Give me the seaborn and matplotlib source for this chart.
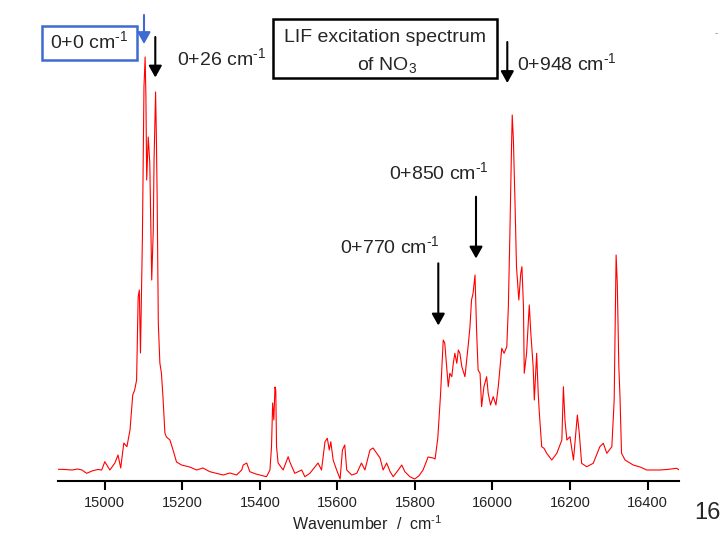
import matplotlib
matplotlib.use("Agg")
import matplotlib.pyplot as plt
import matplotlib.patches as mpatches
import seaborn as sns

# LIF excitation spectrum of NO3
wavenumber = [
    14880, 14897, 14915, 14930, 14941, 14953, 14969, 14982, 14992, 15000,
    15013, 15026, 15034, 15041, 15049, 15057, 15065, 15072, 15077, 15082,
    15086, 15089, 15092, 15097, 15101, 15104, 15106, 15108, 15112, 15116,
    15121, 15125, 15127, 15131, 15133, 15135, 15138, 15142, 15146, 15150,
    15155, 15159, 15168, 15176, 15185, 15198, 15209, 15219, 15237, 15253,
    15271, 15288, 15305, 15323, 15340, 15353, 15357, 15366, 15374, 15390,
    15400, 15417, 15426, 15430, 15433, 15436, 15439, 15441, 15443, 15447,
    15460, 15473, 15477, 15490, 15508, 15516, 15529, 15550, 15559, 15568,
    15574, 15579, 15583, 15589, 15598, 15607, 15613, 15619, 15624, 15637,
    15650, 15662, 15671, 15684, 15692, 15701, 15710, 15718, 15727, 15736,
    15744, 15757, 15766, 15774, 15787, 15799, 15810, 15821, 15834, 15847,
    15852, 15859, 15866, 15873, 15877, 15882, 15886, 15890, 15895, 15899,
    15903, 15908, 15912, 15916, 15921, 15929, 15938, 15942, 15946, 15950,
    15955, 15959, 15963, 15968, 15972, 15978, 15985, 15989, 15995, 16002,
    16009, 16015, 16024, 16030, 16037, 16041, 16045, 16049, 16051, 16054,
    16058, 16062, 16068, 16073, 16076, 16080, 16082, 16088, 16095, 16099,
    16105, 16108, 16114, 16118, 16121, 16127, 16133, 16140, 16153, 16166,
    16179, 16183, 16187, 16192, 16200, 16209, 16219, 16224, 16230, 16243,
    16260, 16277, 16286, 16295, 16308, 16314, 16319, 16322, 16326, 16329,
    16333, 16342, 16363, 16381, 16398, 16415, 16432, 16450, 16475, 16482,
]
intensity = [
    11.7, 11.5, 11, 12, 11, 7.7, 10.3, 11.5, 11, 19.3,
    11, 18, 26, 13, 38, 34.3, 51, 86, 91, 101,
    184, 191, 128, 244, 394, 424, 384, 301, 344, 318,
    201, 251, 321, 389, 344, 284, 158, 118, 108, 84,
    48, 44, 41, 31, 19, 16, 15, 14, 11, 13,
    9.3, 7.7, 6, 8, 6, 11, 16, 18, 9.3, 7,
    6, 4.3, 11, 34.3, 78, 61, 94, 91, 34.3, 18,
    11, 24.3, 19.3, 7.7, 11, 4.3, 7.7, 18, 11, 39.3,
    42.7, 31, 39.3, 21, 11, 2, 31, 36, 11, 6,
    7.7, 18, 11, 31, 33, 28, 23, 11, 18, 9.3,
    4.3, 11, 16, 9.3, 4.3, 2, 5, 11, 24, 23,
    22, 43, 86, 141, 137.7, 114.3, 94.3, 107.7, 104.3, 117.7,
    127.7, 117.7, 131, 127.7, 114.3, 104.3, 137.7, 154.3, 181, 187.7,
    206, 151, 111, 107.7, 74.3, 94.3, 104.3, 87.7, 76, 84.3,
    76, 94.3, 132.7, 127.7, 134.3, 174.3, 247.7, 331, 366, 341,
    281, 214.3, 181, 207.7, 214.3, 174.3, 107.7, 127.7, 176, 147.7,
    114.3, 81, 127.7, 87.7, 67.7, 34.3, 32.7, 27.7, 21, 27.7,
    41, 94.3, 61, 41, 44.3, 21, 66, 47.7, 17.7, 14.3,
    17.7, 34.3, 37.7, 27.7, 34.3, 81, 226, 197.7, 114.3, 84.3,
    27.7, 21, 16, 14, 11, 11, 11, 11.5, 12.7, 11,
]
tick_values = [15000, 15200, 15400, 15600, 15800, 16000, 16200, 16400]

BLUE = "#3d6bd1"
W, H = 720, 540
CM = r"cm$^{\text{-1}}$"


def fx(x):
    return x / W


def fy(y):
    return 1 - y / H


sns.set_theme(style="white")
plt.rcParams["font.family"] = ["Liberation Sans", "DejaVu Sans"]
plt.rcParams["mathtext.fontset"] = "custom"
plt.rcParams["mathtext.rm"] = "Liberation Sans"
plt.rcParams["mathtext.it"] = "Liberation Sans:italic"
plt.rcParams["mathtext.bf"] = "Liberation Sans:bold"

fig = plt.figure(figsize=(7.2, 5.4), dpi=100)
ax = fig.add_axes([fx(58.3), fy(481), 621 / W, 441 / H])

sns.lineplot(x=wavenumber, y=intensity, ax=ax, color="red", linewidth=0.8,
             estimator=None, sort=False)
ax.set_xlim(14880, 16482)
ax.set_ylim(0, 441)
ax.set_yticks([])
ax.set_ylabel("")
ax.set_xticks(tick_values)
for side in ["left", "top", "right"]:
    ax.spines[side].set_visible(False)
ax.spines["bottom"].set_linewidth(1.5)
ax.spines["bottom"].set_color("black")
ax.tick_params(axis="x", bottom=True, direction="out", length=6.5, width=1.5,
               color="black", labelsize=10.5, labelcolor="#222222", pad=4.5)
ax.set_xlabel("Wavenumber  /  " + CM, fontsize=11.5, color="#222222")
ax.xaxis.set_label_coords(0.497, -0.075)

# boxes
fig.add_artist(mpatches.Rectangle((fx(41.7), fy(60)), 95 / W, 34 / H, transform=fig.transFigure,
                                  fill=False, ec=BLUE, lw=1.8))
fig.add_artist(mpatches.Rectangle((fx(273.3), fy(78.3)), 223.4 / W, 59 / H, transform=fig.transFigure,
                                  fill=False, ec="black", lw=1.8))

# labels
fig.text(fx(50), fy(48.3), "0+0 " + CM, fontsize=14, va="baseline")
fig.text(fx(176.7), fy(65), "0+26 " + CM, fontsize=14, va="baseline")
fig.text(fx(384.5), fy(42.3), "LIF excitation spectrum", fontsize=14, va="baseline", ha="center")
fig.text(fx(386.7), fy(70), "of NO$_3$", fontsize=14, va="baseline", ha="center")
fig.text(fx(516.7), fy(70), "0+948 " + CM, fontsize=14, va="baseline")
fig.text(fx(389.3), fy(179), "0+850 " + CM, fontsize=14, va="baseline")
fig.text(fx(340), fy(252.7), "0+770 " + CM, fontsize=14, va="baseline")
fig.text(fx(694), fy(519), "16", fontsize=17, va="baseline")
fig.text(fx(715), fy(36), "-", fontsize=7, color="#888888", va="baseline")

# arrows
arrows = [(144, 15, 44, BLUE), (155.3, 37, 77.5, "black"), (507.3, 42, 83, "black"),
          (476, 196.7, 258.5, "black"), (438.3, 263.3, 325.5, "black")]
for x, y0, y1, c in arrows:
    fig.add_artist(mpatches.FancyArrowPatch(
        (fx(x), fy(y0)), (fx(x), fy(y1)), transform=fig.transFigure,
        arrowstyle="-|>,head_length=0.5,head_width=0.28", mutation_scale=14,
        color=c, lw=1.5, shrinkA=0, shrinkB=0))

fig.savefig("out.png", dpi=100)
plt.close(fig)
